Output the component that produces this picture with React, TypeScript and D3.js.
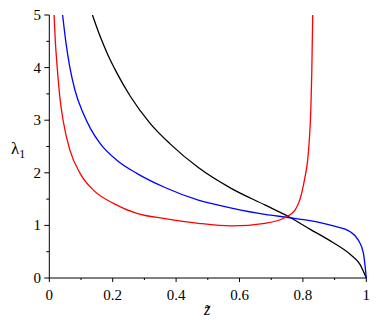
import { useEffect, useRef } from 'react';
import * as d3 from 'd3';

// curve samples (z~, lambda_1)
const redX = [0.015, 0.019, 0.025, 0.034, 0.044, 0.065, 0.097, 0.139, 0.202, 0.276, 0.365, 0.470, 0.575, 0.680, 0.744, 0.775, 0.796, 0.807, 0.815, 0.820, 0.825, 0.828, 0.831];
const redY = [5.0, 4.5, 4.0, 3.4, 2.98, 2.43, 1.99, 1.67, 1.42, 1.23, 1.13, 1.04, 0.99, 1.04, 1.15, 1.29, 1.61, 1.93, 2.24, 2.6, 3.2, 3.9, 5.0];

const blueX = [0.042, 0.053, 0.065, 0.081, 0.107, 0.130, 0.160, 0.213, 0.276, 0.365, 0.470, 0.575, 0.680, 0.754, 0.822, 0.896, 0.949, 0.975, 0.991, 1.0];
const blueY = [5.0, 4.45, 4.0, 3.57, 3.13, 2.84, 2.56, 2.24, 1.99, 1.72, 1.48, 1.33, 1.21, 1.15, 1.09, 0.99, 0.88, 0.72, 0.47, 0.0];

const blackX = [0.136, 0.160, 0.185, 0.213, 0.255, 0.318, 0.381, 0.470, 0.575, 0.680, 0.754, 0.822, 0.896, 0.949, 0.980, 1.0];
const blackY = [5.0, 4.60, 4.24, 3.90, 3.46, 2.94, 2.55, 2.10, 1.70, 1.39, 1.17, 0.93, 0.67, 0.45, 0.26, 0.0];

const xTicks = [0, 0.2, 0.4, 0.6, 0.8, 1];
const xTickLabels = ['0', '0.2', '0.4', '0.6', '0.8', '1'];
const xMinor = [0.1, 0.3, 0.5, 0.7, 0.9];
const yTicks = [0, 1, 2, 3, 4, 5];
const yMinor = [0.5, 1.5, 2.5, 3.5, 4.5];

const App = () => {
  const svgRef = useRef<SVGSVGElement>(null);

  useEffect(() => {
    const svg = d3.select(svgRef.current);
    svg.selectAll('*').remove();

    const x = d3.scaleLinear().domain([0, 1]).range([49.3, 366.3]);
    const y = d3.scaleLinear().domain([0, 5]).range([278, 15]);
    const font = 'Liberation Serif';

    svg
      .append('defs')
      .append('clipPath')
      .attr('id', 'plotclip')
      .append('rect')
      .attr('x', 40)
      .attr('y', y(5))
      .attr('width', 340)
      .attr('height', y(0) - y(5) + 1);

    // curves
    const line = d3
      .line<[number, number]>()
      .x((d) => x(d[0]))
      .y((d) => y(d[1]))
      .curve(d3.curveMonotoneX);

    const curves = [
      { xs: blackX, ys: blackY, color: '#000000' },
      { xs: blueX, ys: blueY, color: '#0000ff' },
      { xs: redX, ys: redY, color: '#ff0000' },
    ];

    const g = svg.append('g').attr('clip-path', 'url(#plotclip)');
    curves.forEach((c) => {
      const pts = c.xs.map((v, i) => [v, c.ys[i]] as [number, number]);
      g.append('path')
        .attr('d', line(pts))
        .attr('fill', 'none')
        .attr('stroke', c.color)
        .attr('stroke-width', 1.3);
    });

    // axes
    const ax = svg.append('g').attr('stroke', '#000').attr('stroke-width', 1);
    ax.append('line').attr('x1', x(0)).attr('x2', x(1)).attr('y1', y(0)).attr('y2', y(0));
    ax.append('line').attr('x1', x(0)).attr('x2', x(0)).attr('y1', y(0)).attr('y2', y(5));

    xTicks.forEach((t) => {
      ax.append('line').attr('x1', x(t)).attr('x2', x(t)).attr('y1', y(0)).attr('y2', y(0) + 4);
    });
    xMinor.forEach((t) => {
      ax.append('line').attr('x1', x(t)).attr('x2', x(t)).attr('y1', y(0)).attr('y2', y(0) + 2);
    });
    yTicks.forEach((t) => {
      ax.append('line').attr('x1', x(0) - 5).attr('x2', x(0)).attr('y1', y(t)).attr('y2', y(t));
    });
    yMinor.forEach((t) => {
      ax.append('line').attr('x1', x(0) - 3).attr('x2', x(0)).attr('y1', y(t)).attr('y2', y(t));
    });

    // tick labels
    svg
      .selectAll('.xl')
      .data(xTicks)
      .enter()
      .append('text')
      .attr('x', (d) => x(d))
      .attr('y', 300)
      .attr('text-anchor', 'middle')
      .style('font-family', font)
      .style('font-size', '15px')
      .text((d, i) => xTickLabels[i]);

    svg
      .selectAll('.yl')
      .data(yTicks)
      .enter()
      .append('text')
      .attr('x', 41)
      .attr('y', (d) => y(d))
      .attr('dy', '0.33em')
      .attr('text-anchor', 'end')
      .style('font-family', font)
      .style('font-size', '15px')
      .text((d) => String(d));

    // axis titles
    const yl = svg
      .append('text')
      .attr('x', 11)
      .attr('y', 154)
      .style('font-family', font)
      .style('font-size', '17px');
    yl.append('tspan').text('λ');
    yl.append('tspan').attr('dy', 4).style('font-size', '12px').text('1');

    svg
      .append('text')
      .attr('x', 207)
      .attr('y', 315)
      .attr('text-anchor', 'middle')
      .style('font-family', font)
      .style('font-size', '16px')
      .style('font-style', 'italic')
      .text('z\u0303');
  }, []);

  return (
    <svg
      ref={svgRef}
      width={377}
      height={327}
      style={{ position: 'absolute', left: 0, top: 0, background: '#fff' }}
    />
  );
};

export default App;
